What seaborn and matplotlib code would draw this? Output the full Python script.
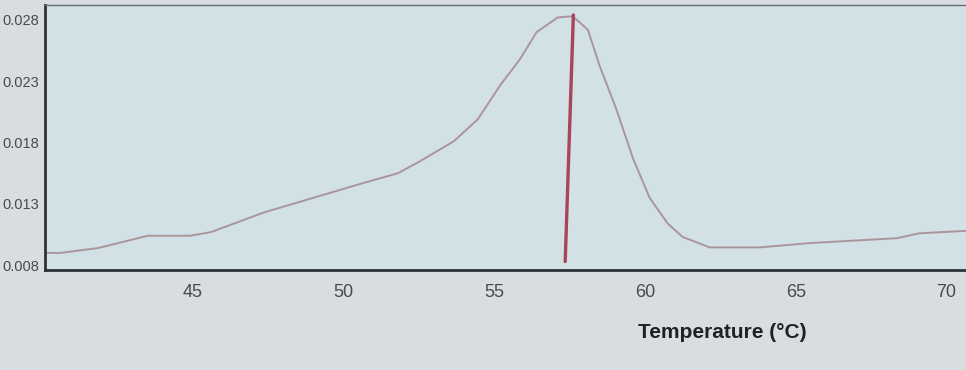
import numpy
import pandas
import seaborn
import matplotlib.pyplot as plt

# Melt curve (temperature in C, derivative value)
temperature = [40.0, 40.6, 41.85, 43.5, 44.9, 45.6, 47.35, 49.0, 50.65, 51.8, 52.55,
               53.65, 54.45, 55.2, 55.85, 56.4, 57.1, 57.6, 58.1, 58.5, 59.05, 59.6,
               60.15, 60.75, 61.25, 62.15, 63.8, 65.45, 68.35, 69.1, 70.65]
derivative = [0.0090, 0.0090, 0.0094, 0.0104, 0.0104, 0.0107, 0.0123, 0.0135, 0.0147,
              0.0155, 0.0165, 0.0181, 0.0199, 0.0227, 0.0248, 0.0270, 0.0282, 0.0283,
              0.0272, 0.0242, 0.0207, 0.0167, 0.0135, 0.0114, 0.0103, 0.00945, 0.00945,
              0.0098, 0.0102, 0.0106, 0.0108]

# Tm marker line (slightly leaning in the photo)
tm_temp = [57.62, 57.35]
tm_value = [0.0284, 0.0083]

x_ticks = [45, 50, 55, 60, 65, 70]
y_ticks = [0.008, 0.013, 0.018, 0.023, 0.028]

curve = pandas.DataFrame({"temperature": temperature, "derivative": derivative})

seaborn.set_style("white")
plt.rcParams['font.family'] = ['Liberation Sans', 'DejaVu Sans']

fig = plt.figure(figsize=(9.66, 3.70), dpi=100, facecolor="#d9dde1")
ax = fig.add_axes([0.047, 0.27, 0.953, 0.716])
ax.set_facecolor("#d2e1e5")

seaborn.lineplot(x="temperature", y="derivative", data=curve, color="#ab959c",
                 linewidth=1.4, ax=ax)
ax.plot(tm_temp, tm_value, color="#a8455a", linewidth=2.4)

ax.set_xlim(40.1, 70.65)
ax.set_ylim(0.0076, 0.0292)
ax.set_xticks(x_ticks)
ax.set_yticks(y_ticks)
ax.set_yticklabels(["%.3f" % v for v in y_ticks])
ax.tick_params(axis="both", colors="#555555", labelcolor="#4a4a4a", labelsize=13,
               length=4, width=0.8, direction="out")
ax.tick_params(axis="y", labelsize=10.5, length=3, pad=1.5)
ax.tick_params(axis="x", pad=6)

for side in ["left", "bottom"]:
    ax.spines[side].set_color("#2e3236")
    ax.spines[side].set_linewidth(2)
ax.spines["top"].set_color("#6a6e72")
ax.spines["top"].set_linewidth(1)
ax.spines["right"].set_visible(False)

ax.set_xlabel("Temperature (°C)", fontsize=15, fontweight="bold", color="#1e2226")
ax.xaxis.set_label_coords(0.735, -0.2)
ax.set_ylabel("")

plt.savefig("out.png", dpi=100, facecolor=fig.get_facecolor())
